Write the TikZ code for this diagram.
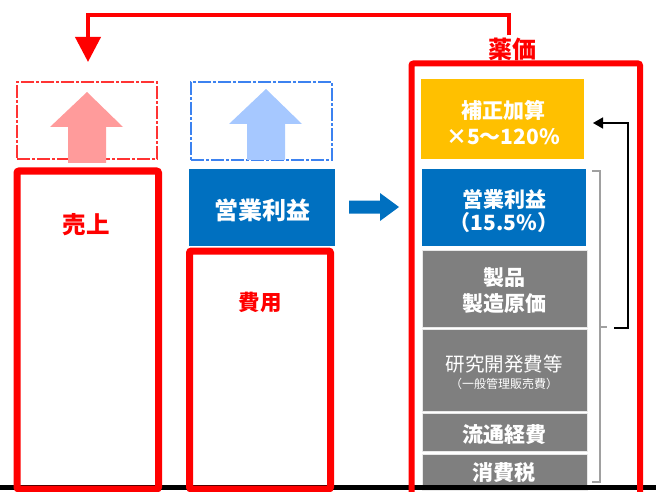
\documentclass[tikz,border=0pt]{standalone}
\usepackage{fontspec}
\setmainfont{Noto Sans CJK JP}
\usetikzlibrary{arrows.meta}
\definecolor{rd}{HTML}{FF0000}
\definecolor{bl}{HTML}{0070C0}
\definecolor{og}{HTML}{FFC000}
\definecolor{gr}{HTML}{7F7F7F}
\definecolor{pk}{HTML}{FF9B9B}
\definecolor{lb}{HTML}{A6C8FF}
\definecolor{db}{HTML}{3C82F0}
\definecolor{brk}{HTML}{A0A0A0}
\tikzset{
  fillbox/.style={draw=none, inner sep=0pt, outer sep=0pt},
  graybox/.style={fill=gr, draw=white!82!gray, line width=1pt, inner sep=0pt, outer sep=0pt},
  redbox/.style={draw=rd, line width=7pt, rounded corners=2pt, inner sep=0pt},
  dashbox/.style={line width=1.1pt, dash pattern=on 13pt off 2pt on 3pt off 2pt, inner sep=0pt},
  wlbl/.style={text=white, font=\bfseries, align=center, inner sep=0pt},
  rlbl/.style={text=rd, font=\bfseries, inner sep=2pt},
}
\begin{document}
\begin{tikzpicture}[x=1pt,y=-1pt]
\useasboundingbox (0,0) rectangle (656,492);

% dashed boxes with up arrows
\node[dashbox, draw=rd!80, minimum width=140pt, minimum height=77pt] (rdash) at (87,120.5) {};
\node[dashbox, draw=db, minimum width=141pt, minimum height=78pt] (bdash) at (261.5,121) {};
\fill[pk] (87,92) -- (123,127) -- (106,127) -- (106,163) -- (68,163) -- (68,127) -- (50,127) -- cycle;
\fill[lb] (266,89) -- (302,124) -- (285,124) -- (285,160) -- (247,160) -- (247,124) -- (229,124) -- cycle;

% left blue box
\node[fillbox, fill=bl, minimum width=146pt, minimum height=77pt] (opl) at (262,207.5) {};
\node[wlbl, font=\bfseries\fontsize{24}{26}\selectfont] (oplt) at (262,210) {営業利益};

% blue block arrow
\fill[bl] (349,200.5) -- (380,200.5) -- (380,193) -- (399,207) -- (380,221) -- (380,213.5) -- (349,213.5) -- cycle;

% right stack
\node[fillbox, fill=og, minimum width=163pt, minimum height=80pt] (hosei) at (502.5,119) {};
\node[wlbl, font=\bfseries\fontsize{21}{26}\selectfont] (hoseit) at (503,123) {補正加算\\×5～120\%};
\node[fillbox, fill=bl, minimum width=164pt, minimum height=77pt] (opr) at (504,207.5) {};
\node[wlbl, font=\bfseries\fontsize{21}{23}\selectfont] (oprt) at (504,211) {営業利益\\（15.5\%）};
\node[graybox, minimum width=165pt, minimum height=77pt] (seizo) at (504.5,288.5) {};
\node[wlbl, font=\bfseries\fontsize{21}{26}\selectfont] (seizot) at (504,291) {製品\\製造原価};
\node[graybox, minimum width=165pt, minimum height=82pt] (kenkyu) at (504.5,370) {};
\node[wlbl, font=\fontsize{19.5}{21}\selectfont] (kenkyut) at (504,364) {研究開発費等};
\node[wlbl, font=\fontsize{12}{13}\selectfont] (ippant) at (504,384) {（一般管理販売費）};
\node[graybox, minimum width=165pt, minimum height=38pt] (ryutsu) at (504.5,432) {};
\node[wlbl, font=\bfseries\fontsize{21}{24}\selectfont] (ryutsut) at (504,435) {流通経費};
\node[graybox, minimum width=165pt, minimum height=36pt] (shohi) at (504.5,472) {};
\node[wlbl, font=\bfseries\fontsize{21}{24}\selectfont] (shohit) at (504,473) {消費税};

% bracket and black arrow
\draw[brk, line width=1.3pt] (592,171) -- (600,171) -- (600,482) -- (592,482) (600,327) -- (607,327);
\coordinate (bk) at (614,328);
\coordinate (bt) at (593,123);
\draw[line width=1.5pt, -{Triangle[width=11pt,length=10pt]}] (bk) -| (628,123) -- (bt);

% baseline
\draw[line width=4.5pt] (0,487.5) -- (656,487.5);

% red boxes
\node[redbox, minimum width=141.5pt, minimum height=318pt] (sales) at (87.75,330) {};
\node[rlbl, font=\bfseries\fontsize{23.5}{26}\selectfont] (salest) at (86,225) {売上};
\node[redbox, minimum width=141pt, minimum height=238pt] (cost) at (260,370) {};
\node[rlbl, font=\bfseries\fontsize{21.5}{24}\selectfont] (costt) at (260,302) {費用};
\node[redbox, line width=6pt, minimum width=228.5pt, minimum height=460pt] (price) at (525.75,293.5) {};

% price label and red connector
\node[rlbl, font=\bfseries\fontsize{24}{26}\selectfont] (yakka) at (512,49) {薬価};
\coordinate (rc) at (509,15);
\coordinate (dtip) at (88,62);
\draw[rd, line width=4pt, -{Triangle[width=25pt,length=25pt]}] (yakka.north -| rc) -- (rc) -| (dtip);
\end{tikzpicture}
\end{document}
